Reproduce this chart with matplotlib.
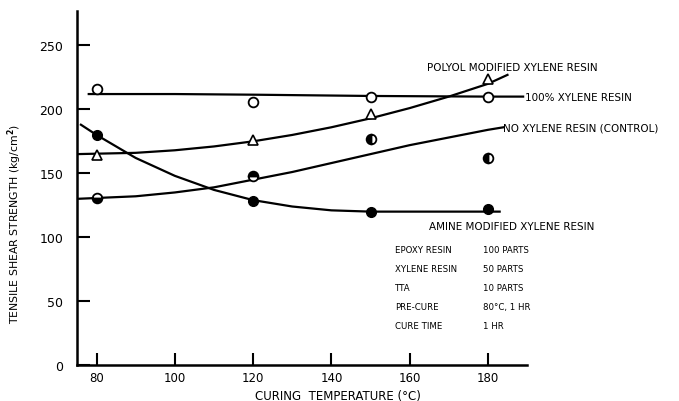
import matplotlib.pyplot as plt

plt.rcParams['font.family'] = 'DejaVu Sans'

# measured points
temps = [80, 120, 150, 180]
xylene100 = [216, 206, 210, 210]
polyol = [164, 176, 196, 224]
control = [131, 148, 177, 162]
amine = [180, 128, 120, 122]
control_fill = ['bottom', 'top', 'left', 'left']

# fitted curves as drawn
xylene100_cx = [78, 100, 120, 150, 180, 189]
xylene100_cy = [212, 212, 211.5, 210.5, 210, 210]
polyol_cx = [75, 90, 100, 110, 120, 130, 140, 150, 160, 170, 180, 185]
polyol_cy = [165, 166, 168, 171, 175, 180, 186, 193, 201, 210, 220, 227]
control_cx = [75, 90, 100, 110, 120, 130, 140, 150, 160, 170, 180, 184]
control_cy = [130, 132, 135, 139, 145, 151, 158, 165, 172, 178, 184, 186]
amine_cx = [76, 80, 90, 100, 110, 120, 130, 140, 150, 165, 183]
amine_cy = [188, 180, 162, 148, 137, 129, 124, 121, 120, 120, 120]

table_l = ['EPOXY RESIN', 'XYLENE RESIN', 'TTA', 'PRE-CURE', 'CURE TIME']
table_r = ['100 PARTS', '50 PARTS', '10 PARTS', '80°C, 1 HR', '1 HR']

fig = plt.figure(figsize=(6.79, 4.02), dpi=100)
ax = fig.add_axes([0.1134, 0.0896, 0.6628, 0.8806])

lw = 1.6
ax.plot(xylene100_cx, xylene100_cy, 'k-', lw=lw)
ax.plot(polyol_cx, polyol_cy, 'k-', lw=lw)
ax.plot(control_cx, control_cy, 'k-', lw=lw)
ax.plot(amine_cx, amine_cy, 'k-', lw=lw)

ax.plot(temps, xylene100, 'o', ms=7, mfc='white', mec='k', mew=1.3)
ax.plot(temps, polyol, '^', ms=7, mfc='white', mec='k', mew=1.2)
ax.plot(temps, amine, 'o', ms=7, mfc='k', mec='k')
for t, v, fs in zip(temps, control, control_fill):
    ax.plot(t, v, 'o', ms=7, mfc='k', mec='k', mew=1.3, fillstyle=fs,
            markerfacecoloralt='white')

ax.set_xlim(75, 190)
ax.set_ylim(0, 277)
ax.set_xticks([80, 100, 120, 140, 160, 180])
ax.set_yticks([0, 50, 100, 150, 200, 250])
ax.tick_params(direction='in', length=9, width=1.5, labelsize=8.5)
ax.tick_params(axis='x', pad=4)
ax.tick_params(axis='y', pad=10, labelsize=9)
for s in ['top', 'right']:
    ax.spines[s].set_visible(False)
for s in ['left', 'bottom']:
    ax.spines[s].set_linewidth(1.8)

ax.set_xlabel('CURING  TEMPERATURE (°C)', fontsize=8.5)
ax.xaxis.set_label_coords(0.58, -0.068)
ax.set_ylabel('TENSILE SHEAR STRENGTH (kg/cm$^{\\mathbf{2}}$)', fontsize=7.8)
ax.yaxis.set_label_coords(-0.118, 0.40)

fs = 7.5
fig.text(0.755, 0.83, 'POLYOL MODIFIED XYLENE RESIN', fontsize=fs,
         va='center', ha='center')
fig.text(0.773, 0.755, '100% XYLENE RESIN', fontsize=fs, va='center', ha='left')
fig.text(0.741, 0.681, 'NO XYLENE RESIN (CONTROL)', fontsize=fs,
         va='center', ha='left')
fig.text(0.753, 0.435, 'AMINE MODIFIED XYLENE RESIN', fontsize=fs,
         va='center', ha='center')

for i, (a, b) in enumerate(zip(table_l, table_r)):
    y = (402 - 251 - i * 18.8) / 402
    fig.text(0.582, y, a, fontsize=6.2, va='center')
    fig.text(0.711, y, b, fontsize=6.2, va='center')

fig.savefig('out.png', dpi=100)
